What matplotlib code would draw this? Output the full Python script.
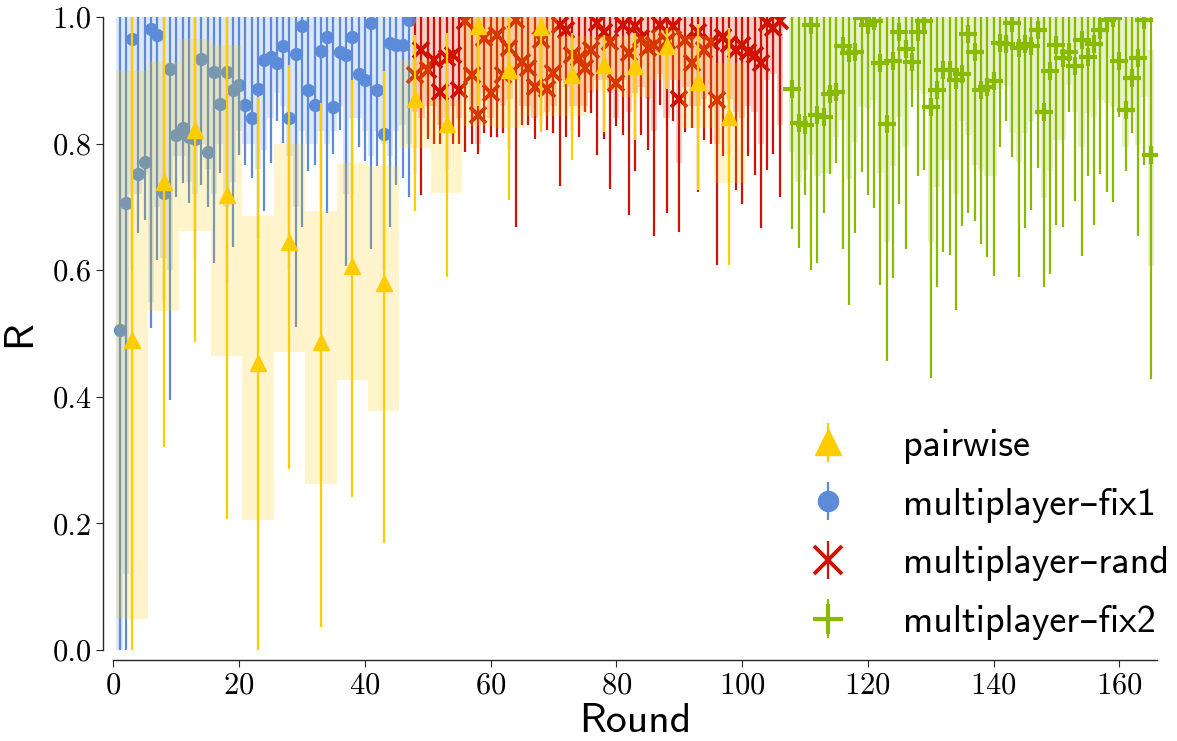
import numpy as np
import matplotlib.pyplot as plt

# multiplayer-fix1 (rounds 1-47)
fix1_rounds = np.arange(1, 48)
fix1_mean = [0.505, 0.706, 0.965, 0.752, 0.771, 0.981, 0.972, 0.722, 0.918, 0.814,
             0.824, 0.811, 0.807, 0.934, 0.786, 0.913, 0.862, 0.913, 0.885, 0.893,
             0.861, 0.840, 0.886, 0.932, 0.936, 0.927, 0.954, 0.840, 0.942, 0.986,
             0.884, 0.861, 0.946, 0.969, 0.858, 0.944, 0.940, 0.969, 0.910, 0.900,
             0.990, 0.885, 0.815, 0.959, 0.956, 0.956, 0.995]
fix1_low = [0.0, 0.0, 0.60, 0.659, 0.680, 0.508, 0.616, 0.55, 0.395, 0.716,
            0.738, 0.706, 0.62, 0.735, 0.700, 0.612, 0.753, 0.58, 0.636, 0.782,
            0.766, 0.745, 0.65, 0.694, 0.770, 0.835, 0.801, 0.60, 0.511, 0.669,
            0.757, 0.766, 0.70, 0.690, 0.784, 0.821, 0.606, 0.72, 0.795, 0.773,
            0.633, 0.765, 0.60, 0.668, 0.735, 0.745, 0.716]
fix1_band_low = [0.0, 0.12, 0.72, 0.72, 0.75, 0.55, 0.70, 0.62, 0.60, 0.78,
                 0.78, 0.74, 0.72, 0.80, 0.76, 0.72, 0.80, 0.70, 0.74, 0.82,
                 0.80, 0.80, 0.76, 0.79, 0.84, 0.88, 0.86, 0.78, 0.70, 0.82,
                 0.80, 0.80, 0.82, 0.80, 0.82, 0.86, 0.72, 0.84, 0.84, 0.82,
                 0.78, 0.82, 0.80, 0.78, 0.82, 0.83, 0.80]

# multiplayer-rand (rounds 48-106)
rand_rounds = np.arange(48, 107)
rand_mean = [0.908, 0.948, 0.916, 0.932, 0.882, 0.935, 0.940, 0.885, 0.993, 0.908,
             0.845, 0.966, 0.880, 0.972, 0.908, 0.951, 0.995, 0.929, 0.919, 0.890,
             0.964, 0.887, 0.911, 0.987, 0.979, 0.940, 0.935, 0.919, 0.948, 0.990,
             0.977, 0.961, 0.895, 0.987, 0.943, 0.985, 0.966, 0.951, 0.955, 0.987,
             0.962, 0.985, 0.871, 0.964, 0.927, 0.977, 0.948, 0.961, 0.869, 0.969,
             0.958, 0.948, 0.955, 0.945, 0.940, 0.927, 0.990, 0.982, 0.993]
rand_low = [0.75, 0.719, 0.808, 0.800, 0.800, 0.76, 0.800, 0.800, 0.787, 0.800,
            0.784, 0.816, 0.811, 0.811, 0.816, 0.79, 0.669, 0.829, 0.829, 0.808,
            0.83, 0.821, 0.816, 0.733, 0.811, 0.82, 0.811, 0.850, 0.848, 0.782,
            0.808, 0.729, 0.827, 0.814, 0.687, 0.756, 0.814, 0.79, 0.654, 0.861,
            0.690, 0.835, 0.661, 0.819, 0.824, 0.724, 0.806, 0.80, 0.608, 0.78,
            0.78, 0.727, 0.705, 0.78, 0.750, 0.667, 0.759, 0.784, 0.715]
rand_band_low = [0.85, 0.84, 0.86, 0.86, 0.83, 0.84, 0.86, 0.84, 0.90, 0.85,
                 0.80, 0.88, 0.84, 0.88, 0.86, 0.87, 0.90, 0.86, 0.86, 0.84,
                 0.88, 0.85, 0.86, 0.90, 0.89, 0.86, 0.86, 0.86, 0.88, 0.90,
                 0.90, 0.88, 0.84, 0.90, 0.85, 0.88, 0.89, 0.87, 0.82, 0.91,
                 0.84, 0.90, 0.77, 0.89, 0.86, 0.86, 0.87, 0.88, 0.80, 0.88,
                 0.87, 0.85, 0.84, 0.86, 0.85, 0.80, 0.90, 0.91, 0.83]

# multiplayer-fix2 (rounds 108-165)
fix2_rounds = np.arange(108, 166)
fix2_mean = [0.887, 0.833, 0.829, 0.987, 0.845, 0.842, 0.879, 0.882, 0.954, 0.943,
             0.944, 0.998, 0.987, 0.993, 0.928, 0.831, 0.931, 0.977, 0.949, 0.929,
             0.976, 0.993, 0.858, 0.884, 0.917, 0.917, 0.900, 0.910, 0.973, 0.944,
             0.885, 0.889, 0.899, 0.959, 0.957, 0.991, 0.951, 0.957, 0.954, 0.979,
             0.850, 0.914, 0.956, 0.935, 0.945, 0.922, 0.964, 0.937, 0.958, 0.979,
             0.995, 0.998, 0.930, 0.853, 0.903, 0.935, 0.995, 0.782]
fix2_low = [0.665, 0.635, 0.719, 0.601, 0.612, 0.691, 0.752, 0.770, 0.633, 0.545,
            0.659, 0.755, 0.718, 0.699, 0.577, 0.457, 0.588, 0.705, 0.633, 0.858,
            0.749, 0.759, 0.430, 0.574, 0.628, 0.624, 0.537, 0.670, 0.691, 0.677,
            0.642, 0.621, 0.591, 0.795, 0.835, 0.779, 0.589, 0.667, 0.695, 0.761,
            0.573, 0.594, 0.671, 0.669, 0.850, 0.710, 0.623, 0.748, 0.672, 0.752,
            0.724, 0.708, 0.842, 0.757, 0.817, 0.654, 0.766, 0.428]
fix2_band_low = [0.787, 0.740, 0.758, 0.782, 0.748, 0.753, 0.753, 0.811, 0.837, 0.744,
                 0.803, 0.858, 0.856, 0.869, 0.753, 0.645, 0.764, 0.842, 0.795, 0.885,
                 0.885, 0.879, 0.645, 0.732, 0.774, 0.774, 0.721, 0.835, 0.814, 0.766,
                 0.758, 0.748, 0.748, 0.887, 0.893, 0.816, 0.771, 0.816, 0.835, 0.845,
                 0.714, 0.756, 0.806, 0.806, 0.893, 0.850, 0.795, 0.848, 0.842, 0.869,
                 0.864, 0.858, 0.853, 0.795, 0.848, 0.798, 0.874, 0.606]
fix2_band_high = [1.0] * 57 + [0.948]

# pairwise (every 5th round)
pair_rounds = [3, 8, 13, 18, 23, 28, 33, 38, 43, 48, 53, 58, 63, 68, 73, 78, 83, 88, 93, 98]
pair_mean = [0.489, 0.740, 0.822, 0.719, 0.453, 0.644, 0.487, 0.606, 0.580, 0.871,
             0.831, 0.986, 0.917, 0.984, 0.908, 0.924, 0.923, 0.954, 0.898, 0.842]
pair_low = [0.0, 0.321, 0.486, 0.207, 0.0, 0.286, 0.037, 0.242, 0.169, 0.694,
            0.590, 0.86, 0.711, 0.819, 0.774, 0.819, 0.806, 0.886, 0.727, 0.608]
pair_high = [1.0, 1.0, 1.0, 1.0, 0.874, 0.924, 0.864, 0.900, 0.914, 0.972,
             0.974, 1.0, 1.0, 1.0, 0.974, 0.972, 0.974, 0.982, 0.989, 0.982]
pair_band_low = [0.049, 0.536, 0.662, 0.465, 0.205, 0.470, 0.263, 0.427, 0.378, 0.793,
                 0.722, 0.827, 0.825, 0.843, 0.843, 0.885, 0.874, 0.90, 0.825, 0.737]
pair_band_high = [0.914, 0.929, 0.965, 0.956, 0.685, 0.800, 0.694, 0.769, 0.765, 0.932,
                  0.869, 1.0, 1.0, 1.0, 0.97, 0.97, 0.97, 0.98, 0.97, 0.927]

BLUE = '#5b8bd9'
RED = '#d01200'
GREEN = '#88bb00'
GOLD = '#ffcc00'

plt.rcParams['axes.formatter.use_mathtext'] = True
sans = ['cmss10', 'DejaVu Sans']

fig = plt.figure(figsize=(11.77, 7.41), dpi=100)
ax = fig.add_axes([0.0963, 0.1228, 0.8867, 0.8543])


def draw(rounds, mean, low, high, band_low, band_high, color, marker, ms, mew, width, z):
    mean = np.asarray(mean)
    low = np.asarray(low)
    high = np.asarray(high)
    eb = ax.errorbar(rounds, mean, yerr=[mean - low, high - mean], fmt=marker,
                     color=color, ms=ms, mew=mew, elinewidth=1.6, capsize=0,
                     zorder=z)
    ax.bar(rounds, np.asarray(band_high) - np.asarray(band_low), bottom=band_low,
           width=width, color=color, alpha=0.2, linewidth=0, zorder=z + 0.5)
    return eb


ones = lambda v: [1.0] * len(v)
h_fix1 = draw(fix1_rounds, fix1_mean, fix1_low, ones(fix1_mean),
              fix1_band_low, ones(fix1_mean), BLUE, 'o', 8.5, 1, 1.0, 2)
h_rand = draw(rand_rounds, rand_mean, rand_low, ones(rand_mean),
              rand_band_low, ones(rand_mean), RED, 'x', 11.5, 2.8, 1.0, 2)
h_fix2 = draw(fix2_rounds, fix2_mean, fix2_low, ones(fix2_mean),
              fix2_band_low, fix2_band_high, GREEN, '+', 13, 3, 1.0, 2)

# pairwise drawn last: its wide bands tint the points underneath
pm = np.asarray(pair_mean)
ax.bar(pair_rounds, np.asarray(pair_band_high) - np.asarray(pair_band_low),
       bottom=pair_band_low, width=5, color=GOLD, alpha=0.2, linewidth=0, zorder=3)
h_pair = ax.errorbar(pair_rounds, pm,
                     yerr=[pm - np.asarray(pair_low), np.asarray(pair_high) - pm],
                     fmt='^', color=GOLD, ms=11, elinewidth=1.6, capsize=0, zorder=4)

ax.set_xlim(0, 166)
ax.set_ylim(0, 1.0)
for side in ['top', 'right']:
    ax.spines[side].set_visible(False)
ax.spines['left'].set_position(('outward', 7.2))
ax.spines['bottom'].set_position(('outward', 7.2))
ax.spines['left'].set_bounds(0, 1)
ax.spines['bottom'].set_bounds(0, 166)
for s in ['left', 'bottom']:
    ax.spines[s].set_color('#262626')
    ax.spines[s].set_linewidth(1.0)

ax.set_xticks(np.arange(0, 161, 20))
ax.set_yticks(np.arange(0, 1.01, 0.2))
ax.set_yticklabels(['0.0', '0.2', '0.4', '0.6', '0.8', '1.0'])
ax.tick_params(labelsize=22, length=5, color='#262626')
for lab in ax.get_xticklabels() + ax.get_yticklabels():
    lab.set_fontfamily('cmr10')

ax.set_xlabel('Round', fontsize=30, family=sans, labelpad=3)
ax.set_ylabel('R', fontsize=30, family=sans, labelpad=10)

ax.legend([h_pair, h_fix1, h_rand, h_fix2],
          ['pairwise', 'multiplayer\u2013fix1', 'multiplayer\u2013rand', 'multiplayer\u2013fix2'],
          loc='lower left', bbox_to_anchor=(0.6626, 0.016), frameon=False,
          prop={'family': sans, 'size': 27.5}, markerscale=1.7,
          handlelength=1.2, handletextpad=1.36, labelspacing=0.62,
          borderpad=0, borderaxespad=0)

fig.savefig('out.png', dpi=100)
